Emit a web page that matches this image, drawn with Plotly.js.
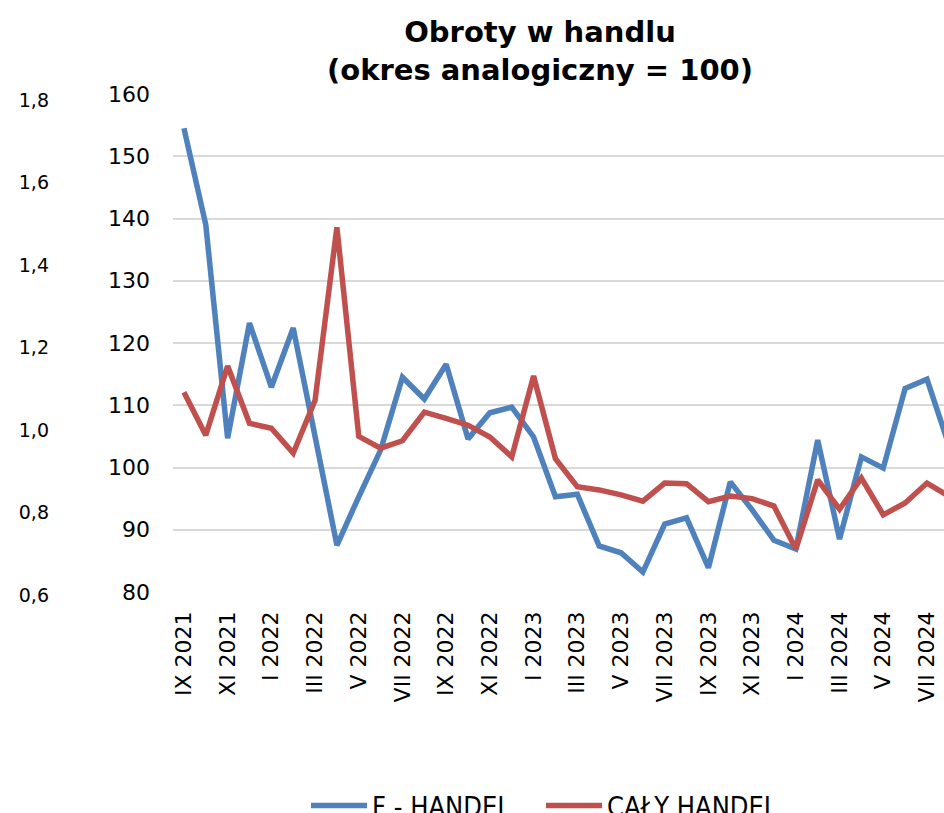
<!DOCTYPE html>
<html>
<head>
<meta charset="utf-8">
<script src="https://cdn.plot.ly/plotly-3.0.1.min.js"></script>
<style>html,body{margin:0;padding:0;background:#fff;}#chart{width:944px;height:813px;}</style>
</head>
<body>
<div id="chart"></div>
<script>
const categories = ['IX 2021','X 2021','XI 2021','XII 2021','I 2022','II 2022','III 2022','IV 2022','V 2022','VI 2022','VII 2022','VIII 2022','IX 2022','X 2022','XI 2022','XII 2022','I 2023','II 2023','III 2023','IV 2023','V 2023','VI 2023','VII 2023','VIII 2023','IX 2023','X 2023','XI 2023','XII 2023','I 2024','II 2024','III 2024','IV 2024','V 2024','VI 2024','VII 2024','VIII 2024'];
const fHandel = [154.5,139.0,104.7,123.2,112.9,122.4,105.0,87.5,95.3,102.8,114.5,111.0,116.6,104.6,108.8,109.7,104.9,95.3,95.7,87.4,86.3,83.2,90.9,91.9,83.9,97.7,93.2,88.3,86.9,104.4,88.5,101.7,99.9,112.7,114.2,103.6];
const calyHandel = [112.1,105.2,116.3,107.1,106.3,102.3,110.8,138.6,105.0,103.1,104.3,108.9,107.9,106.8,104.9,101.7,114.7,101.4,96.9,96.4,95.6,94.6,97.5,97.4,94.5,95.4,95.0,93.8,86.9,98.0,93.3,98.3,92.4,94.3,97.5,95.4];
const tickLabels = categories.filter((c, i) => i % 2 === 0);
const seriesNames = ['F - HANDEL', 'CAŁY HANDEL'];
const primaryTicks = [80, 90, 100, 110, 120, 130, 140, 150, 160];
const secondaryTicks = [0.6, 0.8, 1.0, 1.2, 1.4, 1.6, 1.8];

const font = 'DejaVu Sans, Verdana, sans-serif';

const traces = [
  {x: categories, y: fHandel, name: seriesNames[0], type: 'scatter', mode: 'lines',
   line: {color: '#4F81BD', width: 5.5, shape: 'linear'}, xaxis: 'x', yaxis: 'y'},
  {x: categories, y: calyHandel, name: seriesNames[1], type: 'scatter', mode: 'lines',
   line: {color: '#C0504D', width: 5.5}, xaxis: 'x', yaxis: 'y'},
  {x: [categories[0]], y: [1.0], type: 'scatter', mode: 'lines', showlegend: false,
   hoverinfo: 'skip', line: {color: 'rgba(0,0,0,0)'}, xaxis: 'x', yaxis: 'y2'}
];

const layout = {
  width: 944, height: 813,
  paper_bgcolor: '#fff', plot_bgcolor: 'rgba(0,0,0,0)',
  separators: ', ',
  margin: {l: 0, r: 0, t: 90, b: 213, pad: 0, autoexpand: false},
  title: {
    text: '<b>Obroty w handlu<br>(okres analogiczny = 100)</b>',
    font: {family: font, size: 29, color: '#000'},
    x: 540/944, xanchor: 'center', xref: 'container',
    y: 1 - 42/813, yanchor: 'top', yref: 'container'
  },
  xaxis: {
    type: 'category', domain: [173/944, 1], anchor: 'y',
    range: [-0.5, 34.78],
    tickmode: 'array', tickvals: tickLabels, ticktext: tickLabels,
    tickangle: -90, tickfont: {family: font, size: 22, color: '#000'},
    ticks: '', showgrid: false, zeroline: false, showline: false,
    ticklabelstandoff: 14, fixedrange: true
  },
  yaxis: {
    domain: [8/510, 506/510], anchor: 'x',
    range: [80, 160], tickmode: 'array', tickvals: primaryTicks,
    tickfont: {family: font, size: 22, color: '#000'},
    ticks: '', showline: false, zeroline: false,
    showgrid: true, gridcolor: '#D9D9D9', gridwidth: 2,
    ticklabelstandoff: 22
  },
  yaxis2: {
    domain: [3/510, 504/510], anchor: 'free', position: 49/944, side: 'left',
    range: [0.59515, 1.80970], tickmode: 'array', tickvals: secondaryTicks,
    tickformat: '.1f',
    tickfont: {family: font, size: 19, color: '#000'},
    ticks: '', showline: false, zeroline: false, showgrid: false
  },
  showlegend: true,
  legend: {
    orientation: 'h', xref: 'container', yref: 'container',
    x: 306/944, xanchor: 'left', y: 1 - 806/813, yanchor: 'middle',
    font: {family: 'Liberation Sans Narrow, DejaVu Sans Condensed, Arial Narrow, sans-serif', size: 27, color: '#000'},
    entrywidth: 164, entrywidthmode: 'pixels', itemwidth: 56,
    bgcolor: 'rgba(0,0,0,0)', borderwidth: 0
  }
};

Plotly.newPlot('chart', traces, layout, {displayModeBar: false, staticPlot: true});
</script>
</body>
</html>
